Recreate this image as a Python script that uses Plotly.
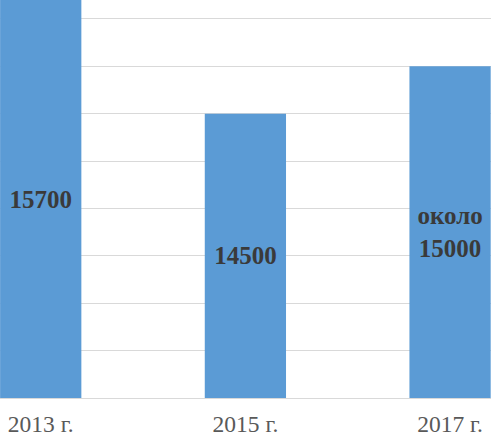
import plotly.graph_objects as go

categories = ["2013 г.", "2015 г.", "2017 г."]
values = [15700, 14500, 15000]
labels = ["15700", "14500", "около<br>15000"]
axis_min = 11500
axis_max = 15700

fig = go.Figure()
fig.add_trace(go.Bar(
    x=[0, 1, 2],
    y=[v - axis_min for v in values],
    base=axis_min,
    text=labels,
    textposition="inside",
    insidetextanchor="middle",
    textangle=0,
    textfont=dict(family="Liberation Serif", size=25, color="#3a3a3a", weight="bold"),
    marker=dict(color="#5B9BD5", line=dict(width=0)),
    width=0.397,
    cliponaxis=False,
    hoverinfo="skip",
))

fig.update_layout(
    width=491, height=434,
    margin=dict(l=0, r=0, t=0, b=36, pad=0),
    paper_bgcolor="white", plot_bgcolor="white",
    showlegend=False,
    uniformtext=dict(mode=False),
    xaxis=dict(
        range=[-0.199, 2.2],
        tickmode="array", tickvals=[0, 1, 2], ticktext=categories,
        tickfont=dict(family="Liberation Serif", size=23.5, color="#595959"),
        showgrid=False, zeroline=False, showline=True,
        linecolor="#d9d9d9", linewidth=1,
        ticks="", automargin=False, ticklabelstandoff=5,
    ),
    yaxis=dict(
        range=[axis_min, axis_max],
        tickmode="linear", tick0=axis_min, dtick=500,
        showticklabels=False,
        gridcolor="#d9d9d9", gridwidth=1,
        zeroline=False, showline=False, automargin=False,
    ),
)
fig.write_html("out.html", config={"displayModeBar": False},
               post_script="document.body.style.margin='0';document.body.style.padding='0';")
